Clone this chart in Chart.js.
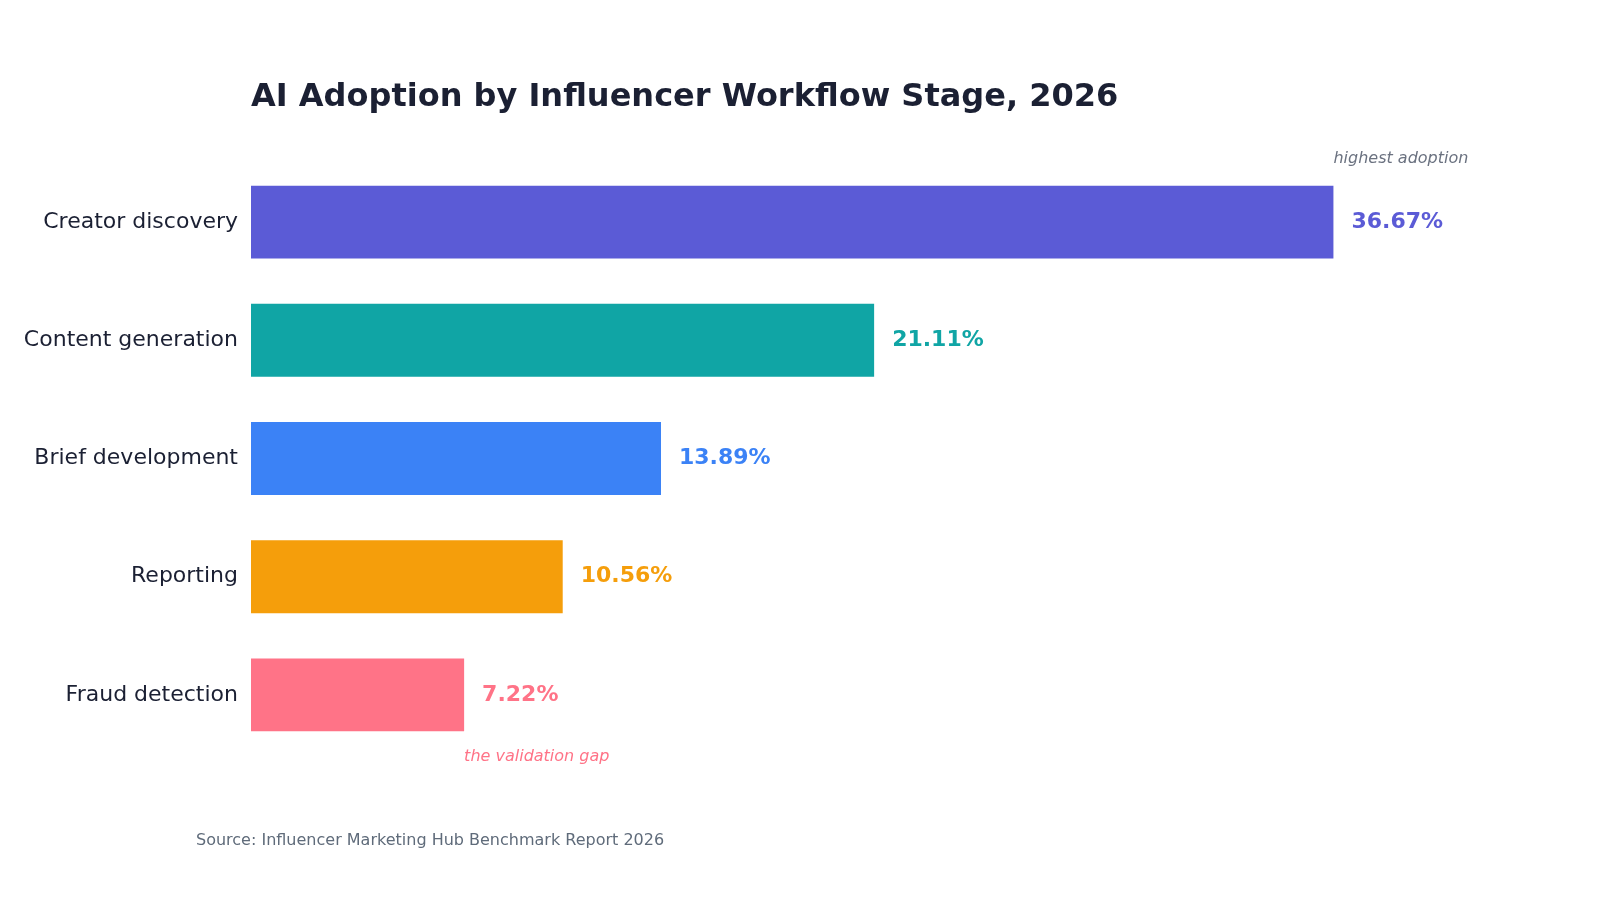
<!DOCTYPE html>
<html><head><meta charset="utf-8">
<script src="https://cdn.jsdelivr.net/npm/chart.js@4"></script>
<style>html,body{margin:0;padding:0;background:#fff}#w{width:1600px;height:900px}</style>
</head><body><div id="w"><canvas id="c"></canvas></div>
<script>
const categories = ["Creator discovery","Content generation","Brief development","Reporting","Fraud detection"];
const values = [36.67,21.11,13.89,10.56,7.22];
const colors = ["#5B5BD6","#10A5A5","#3B82F6","#F59E0B","#FF7387"];
const titleText = "AI Adoption by Influencer Workflow Stage, 2026";
const sourceText = "Source: Influencer Marketing Hub Benchmark Report 2026";
const FONT = "'DejaVu Sans', sans-serif";

const deco = {
  id:'deco',
  afterDatasetsDraw(chart){
    const ctx = chart.ctx, meta = chart.getDatasetMeta(0);
    ctx.save();
    ctx.textBaseline='middle';
    ctx.font = "bold 32px "+FONT; ctx.fillStyle="#1b2033"; ctx.textAlign='left';
    ctx.fillText(titleText, 251, 98);
    meta.data.forEach((b,i)=>{
      ctx.font="bold 22px "+FONT; ctx.fillStyle=colors[i];
      ctx.fillText(values[i].toFixed(2)+"%", b.x+18, b.y);
    });
    ctx.font="italic 16px "+FONT; ctx.fillStyle="#6b7280"; ctx.textAlign='left';
    ctx.fillText("highest adoption", meta.data[0].x, 159);
    ctx.fillStyle=colors[4];
    ctx.fillText("the validation gap", meta.data[4].x, 757);
    ctx.font="16px "+FONT; ctx.fillStyle="#5f6b7a";
    ctx.fillText(sourceText, 196, 841);
    ctx.restore();
  }
};

new Chart(document.getElementById('c'),{
  type:'bar',
  data:{labels:categories,datasets:[{data:values,backgroundColor:colors,categoryPercentage:0.617,barPercentage:1}]},
  options:{
    indexAxis:'y',responsive:true,maintainAspectRatio:false,animation:false,
    layout:{padding:{top:163,bottom:146,right:124,left:0}},
    plugins:{legend:{display:false},tooltip:{enabled:false}},
    scales:{
      x:{min:0,max:41.5,display:false},
      y:{grid:{display:false},border:{display:false},
        ticks:{color:"#1b2033",font:{family:FONT,size:22},padding:5},
        afterFit(s){s.width=251;}}
    }
  },
  plugins:[deco]
});
</script></body></html>
